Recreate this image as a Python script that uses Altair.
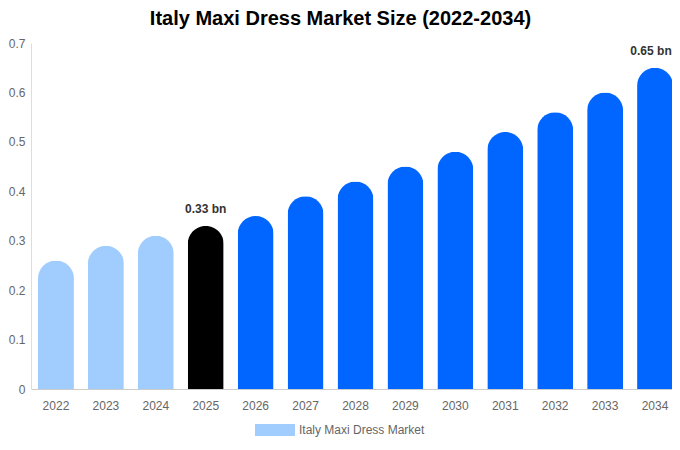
import altair as alt
import pandas as pd

years = ["2022", "2023", "2024", "2025", "2026", "2027", "2028", "2029",
         "2030", "2031", "2032", "2033", "2034"]
values = [0.26, 0.29, 0.31, 0.33, 0.35, 0.39, 0.42, 0.45, 0.48, 0.52, 0.56, 0.60, 0.65]
colors = ["#a0cdfd", "#a0cdfd", "#a0cdfd", "#000000"] + ["#0066ff"] * 9
labels = ["", "", "", "0.33 bn", "", "", "", "", "", "", "", "", "0.65 bn"]
series_name = "Italy Maxi Dress Market"

df = pd.DataFrame({"year": years, "value": values, "color": colors, "label": labels})
legend_df = pd.DataFrame({"series": [series_name]})

FONT = "Liberation Sans"

x_enc = alt.X("year:N", sort=years,
              scale=alt.Scale(range=[0, 649], paddingInner=0.28, paddingOuter=0.14),
              axis=alt.Axis(title=None, labelAngle=0, ticks=False, domainColor="#cccccc",
                            labelColor="#666666", labelFontSize=12, labelPadding=11,
                            labelFont=FONT))
y_enc = alt.Y("value:Q", scale=alt.Scale(domain=[0, 0.7], nice=False),
              axis=alt.Axis(title=None, values=[0, 0.1, 0.2, 0.3, 0.4, 0.5, 0.6, 0.7],
                            format="~g", grid=False, ticks=False, domainColor="#dddddd",
                            labelColor="#666666", labelFontSize=12, labelPadding=6,
                            labelFont=FONT))

bars = alt.Chart(df).mark_bar(cornerRadiusTopLeft=18, cornerRadiusTopRight=18).encode(
    x=x_enc,
    y=y_enc,
    color=alt.Color("color:N", scale=None),
)

text_base = alt.Chart(df).encode(
    x=alt.X("year:N", sort=years),
    y="value:Q",
    text="label:N",
)
text_mid = text_base.mark_text(dy=-10, baseline="bottom", fontWeight="bold",
                               fontSize=12, color="#333333", font=FONT
                               ).transform_filter(alt.datum.year != years[-1])
text_last = text_base.mark_text(dy=-10, dx=-4, baseline="bottom", fontWeight="bold",
                                fontSize=12, color="#333333", font=FONT
                                ).transform_filter(alt.datum.year == years[-1])

legend_layer = alt.Chart(legend_df).mark_point(filled=True, opacity=0).encode(
    color=alt.Color("series:N", scale=alt.Scale(domain=[series_name], range=["#a0cdfd"]),
                    legend=alt.Legend(orient="none", legendX=224, legendY=367,
                                      direction="horizontal", title=None,
                                      symbolType="M-1,-0.3L1,-0.3L1,0.3L-1,0.3Z",
                                      symbolSize=1600, symbolOpacity=1,
                                      symbolStrokeWidth=0,
                                      labelColor="#666666", labelFontSize=12,
                                      labelFont=FONT)),
)

chart = alt.layer(bars, text_mid, text_last, legend_layer).properties(
    width=641,
    height=346,
    title=alt.TitleParams("Italy Maxi Dress Market Size (2022-2034)", fontSize=20,
                          fontWeight="bold", font=FONT, color="#000000",
                          anchor="middle", offset=8, dx=-11),
    autosize=alt.AutoSizeParams(type="none"),
    padding={"left": 23, "top": 35, "right": 0, "bottom": 48},
).configure_view(stroke=None)

chart.save("out.html", embed_options={"renderer": "svg", "actions": False})
